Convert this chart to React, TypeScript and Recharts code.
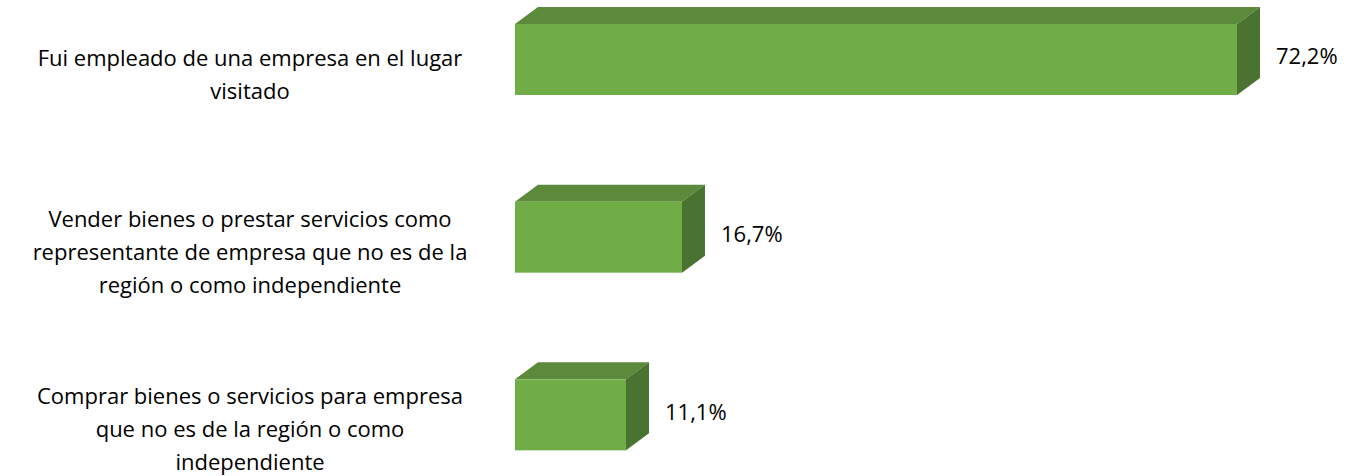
import React from "react";
import { BarChart, Bar, XAxis, YAxis, LabelList } from "recharts";

const categories: string[] = [
  "Fui empleado de una empresa en el lugar\nvisitado",
  "Vender bienes o prestar servicios como\nrepresentante de empresa que no es de la\nregión o como independiente",
  "Comprar bienes o servicios para empresa\nque no es de la región o como\nindependiente",
];
const values: number[] = [72.2, 16.7, 11.1];

const data = categories.map((c, i) => ({ name: c, value: values[i] }));

const DX = 23;
const DY = 17;
const FONT = "'Open Sans', sans-serif";

const Bar3D = (props: any) => {
  const { x, y, width, height } = props;
  const w = Math.max(0, width);
  return (
    <g>
      <polygon
        points={`${x},${y} ${x + DX},${y - DY} ${x + w + DX},${y - DY} ${x + w},${y}`}
        fill="#5A8A3A"
      />
      <polygon
        points={`${x + w},${y} ${x + w + DX},${y - DY} ${x + w + DX},${y + height - DY} ${x + w},${y + height}`}
        fill="#4A7230"
      />
      <rect x={x} y={y} width={w} height={height} fill="#70AD47" />
    </g>
  );
};

const CatTick = (props: any) => {
  const { y, payload } = props;
  const lines: string[] = String(payload.value).split("\n");
  const lh = 33;
  const center = y + 15;
  const start = center - ((lines.length - 1) * lh) / 2;
  return (
    <text textAnchor="middle" fontFamily={FONT} fontSize={22} fill="#000">
      {lines.map((l, i) => (
        <tspan key={i} x={250} y={start + i * lh} dy="0.33em">
          {l}
        </tspan>
      ))}
    </text>
  );
};

const ValueLabel = (props: any) => {
  const { x, y, width, height, value } = props;
  return (
    <text
      x={x + width + DX + 16}
      y={y + height / 2 - 3}
      dy="0.35em"
      fontFamily={FONT}
      fontSize={22}
      fill="#000"
    >
      {String(value.toFixed(1)).replace(".", ",") + "%"}
    </text>
  );
};

export default function App() {
  return (
    <div style={{ position: "relative", width: 1349, height: 476, overflow: "hidden", background: "#fff" }}>
      <style>{`body{margin:0}`}</style>
      <div style={{ position: "absolute", left: 0, top: -29 }}>
        <BarChart
          width={1349}
          height={533}
          data={data}
          layout="vertical"
          margin={{ top: 0, right: 34, bottom: 0, left: 0 }}
          barCategoryGap={0}
        >
          <XAxis type="number" domain={[0, 80]} hide />
          <YAxis
            type="category"
            dataKey="name"
            width={515}
            axisLine={false}
            tickLine={false}
            tick={<CatTick />}
            interval={0}
          />
          <Bar dataKey="value" barSize={71} shape={<Bar3D />} isAnimationActive={false}>
            <LabelList dataKey="value" content={<ValueLabel />} />
          </Bar>
        </BarChart>
      </div>
    </div>
  );
}
